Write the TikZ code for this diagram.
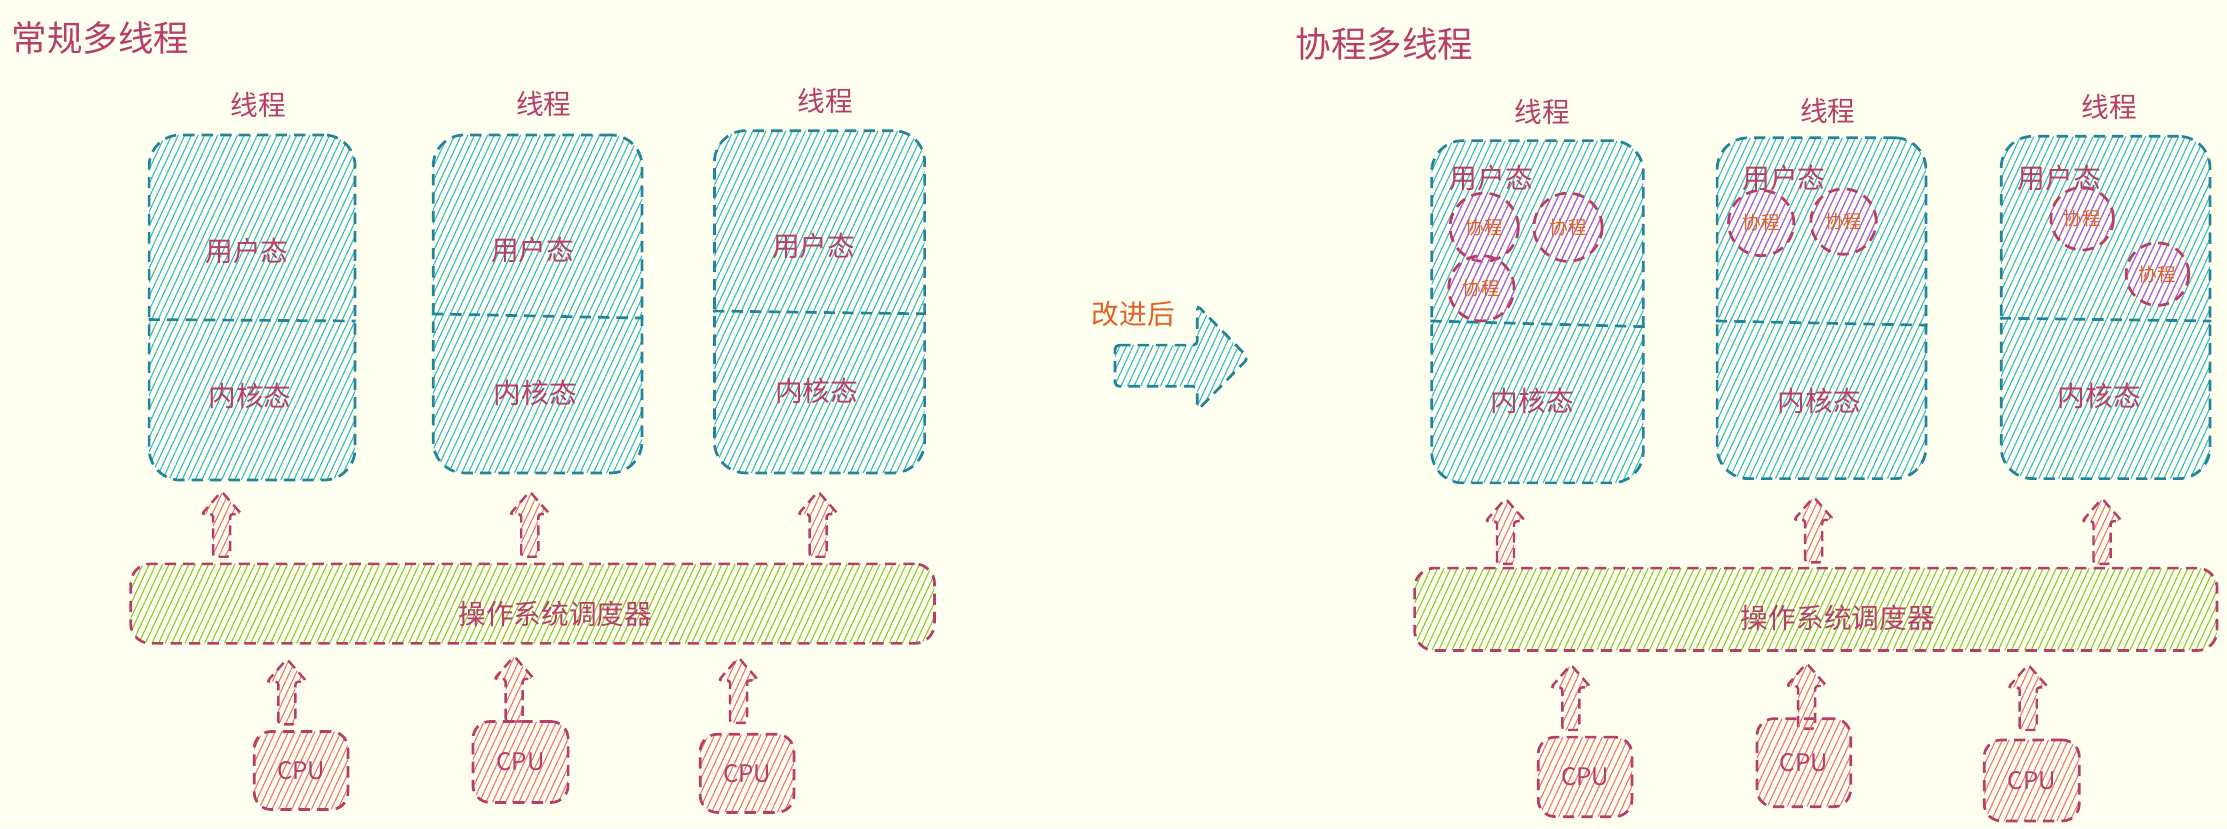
\documentclass[tikz,border=0pt]{standalone}
\usepackage{fontspec}
\setmainfont{Noto Sans CJK SC}
\usetikzlibrary{patterns.meta}
\definecolor{bgc}{HTML}{FEFFEE}
\definecolor{tealc}{HTML}{23849A}
\definecolor{cyanc}{HTML}{2DB9D0}
\definecolor{crim}{HTML}{B73E6A}
\definecolor{greenc}{HTML}{86C92A}
\definecolor{redc}{HTML}{F47070}
\definecolor{purc}{HTML}{C955E6}
\definecolor{orangec}{HTML}{E0612A}
\tikzset{
  hach/.style={pattern={Lines[angle=65,distance=4.2pt,line width=0.75pt]}, pattern color=#1},
  dsh/.style={dash pattern=on 8pt off 5pt, line width=1.9pt},
  tbox/.style={rectangle, draw=tealc, dsh, rounded corners=22pt, hach=cyanc, inner sep=0pt},
  divline/.style={draw=tealc, dsh},
  sched/.style={rectangle, draw=crim, dsh, rounded corners=14pt, hach=greenc, inner sep=0pt},
  cpubox/.style={rectangle, draw=crim, dsh, rounded corners=12pt, hach=redc, inner sep=0pt},
  corou/.style={circle, draw=crim, dsh, hach=purc, inner sep=0pt, text=orangec, font=\fontsize{13}{13}\selectfont},
  lbl/.style={text=crim, font=\fontsize{19.5}{20}\selectfont, inner sep=0pt},
  ttl/.style={text=crim, font=\fontsize{25}{26}\selectfont, inner sep=0pt, anchor=west},
  cputxt/.style={text=crim, font=\fontsize{17}{17}\selectfont, inner sep=0pt},
  arrline/.style={draw=crim, dash pattern=on 7pt off 4pt, line width=1.7pt, hach=redc, rounded corners=2pt},
  uparr/.pic={\path[arrline] (-6,23) -- (-6,-7) -- (-14,-7) -- (0,-23) -- (14,-7) -- (6,-7) -- (6,23) -- cycle;}
}
\begin{document}
\begin{tikzpicture}[x=1pt,y=-1pt]
\fill[bgc] (0,0) rectangle (1568,583);
\useasboundingbox (0,0) rectangle (1568,583);

% ---------- left: conventional multithreading ----------
\node[ttl] (tl) at (8,27) {常规多线程};

\node[tbox, minimum width=145, minimum height=243] (L1) at (177.5,216.5) {};
\node[tbox, minimum width=147, minimum height=238] (L2) at (378.5,214) {};
\node[tbox, minimum width=148, minimum height=241] (L3) at (577,212.5) {};
\draw[divline] (L1.west |- 0,225) -- (L1.east |- 0,226);
\draw[divline] (L2.west |- 0,221) -- (L2.east |- 0,224);
\draw[divline] (L3.west |- 0,219) -- (L3.east |- 0,221);

\node[lbl] (Lt1) at (182,74) {线程};
\node[lbl] (Lt2) at (383,73) {线程};
\node[lbl] (Lt3) at (581,71) {线程};
\node[lbl] (Lu1) at (174,177) {用户态};
\node[lbl] (Lu2) at (375,176) {用户态};
\node[lbl] (Lu3) at (573,173) {用户态};
\node[lbl] (Lk1) at (176,279) {内核态};
\node[lbl] (Lk2) at (377,277) {内核态};
\node[lbl] (Lk3) at (575,275) {内核态};

\pic at (156,369) {uparr};
\pic at (373,369) {uparr};
\pic at (576,369) {uparr};

\node[sched, minimum width=566, minimum height=56] (Ls) at (375,425) {};
\node[lbl] (Lst) at (391,432) {操作系统调度器};

\pic at (202,487) {uparr};
\pic at (362,485) {uparr};
\pic at (520,486) {uparr};

\node[cpubox, minimum width=66, minimum height=55] (Lc1) at (212,542.5) {};
\node[cpubox, minimum width=67, minimum height=57] (Lc2) at (366.5,536.5) {};
\node[cpubox, minimum width=66, minimum height=55] (Lc3) at (526,544.5) {};
\node[cputxt] at (Lc1) {CPU};
\node[cputxt] at (Lc2) {CPU};
\node[cputxt] at (Lc3) {CPU};

% ---------- middle ----------
\node[text=orangec, font=\fontsize{19.5}{20}\selectfont, inner sep=0pt] (imp) at (798,221) {改进后};
\path[draw=tealc, dsh, hach=cyanc, rounded corners=3pt] (785,243) -- (843,243) -- (843,215) -- (879,252) -- (843,289) -- (843,272) -- (785,272) -- cycle;

% ---------- right: coroutine multithreading ----------
\node[ttl] (tr) at (912,31) {协程多线程};

\node[tbox, minimum width=149, minimum height=241] (R1) at (1082.5,219.5) {};
\node[tbox, minimum width=147, minimum height=240] (R2) at (1282.5,217) {};
\node[tbox, minimum width=147, minimum height=241] (R3) at (1482.5,216.5) {};
\draw[divline] (R1.west |- 0,226) -- (R1.east |- 0,230);
\draw[divline] (R2.west |- 0,226) -- (R2.east |- 0,229);
\draw[divline] (R3.west |- 0,224) -- (R3.east |- 0,226);

\node[lbl] (Rt1) at (1086,79) {线程};
\node[lbl] (Rt2) at (1287,78) {线程};
\node[lbl] (Rt3) at (1485,75) {线程};
\node[lbl] (Ru1) at (1050,125) {用户态};
\node[lbl] (Ru2) at (1256,125) {用户态};
\node[lbl] (Ru3) at (1450,125) {用户态};
\node[lbl] (Rk1) at (1079,282) {内核态};
\node[lbl] (Rk2) at (1281,282) {内核态};
\node[lbl] (Rk3) at (1478,279) {内核态};

\node[corou, minimum size=48] (c11) at (1045,160) {协程};
\node[corou, minimum size=48] (c12) at (1104,160) {协程};
\node[corou, minimum size=46] (c13) at (1043,203) {协程};
\node[corou, minimum size=46] (c21) at (1240,157) {协程};
\node[corou, minimum size=46] (c22) at (1298,156) {协程};
\node[corou, minimum size=44] (c31) at (1466,154) {协程};
\node[corou, minimum size=44] (c32) at (1519,193) {协程};

\pic at (1060,374) {uparr};
\pic at (1277,373) {uparr};
\pic at (1480,374) {uparr};

\node[sched, minimum width=565, minimum height=58] (Rs) at (1278.5,429) {};
\node[lbl] (Rst) at (1294,435) {操作系统调度器};

\pic at (1106,491) {uparr};
\pic at (1272,490) {uparr};
\pic at (1428,491) {uparr};

\node[cpubox, minimum width=66, minimum height=56] (Rc1) at (1116,547) {};
\node[cpubox, minimum width=66, minimum height=62] (Rc2) at (1270,537) {};
\node[cpubox, minimum width=67, minimum height=57] (Rc3) at (1430.5,549.5) {};
\node[cputxt] at (Rc1) {CPU};
\node[cputxt] at (Rc2) {CPU};
\node[cputxt] at (Rc3) {CPU};
\end{tikzpicture}
\end{document}
